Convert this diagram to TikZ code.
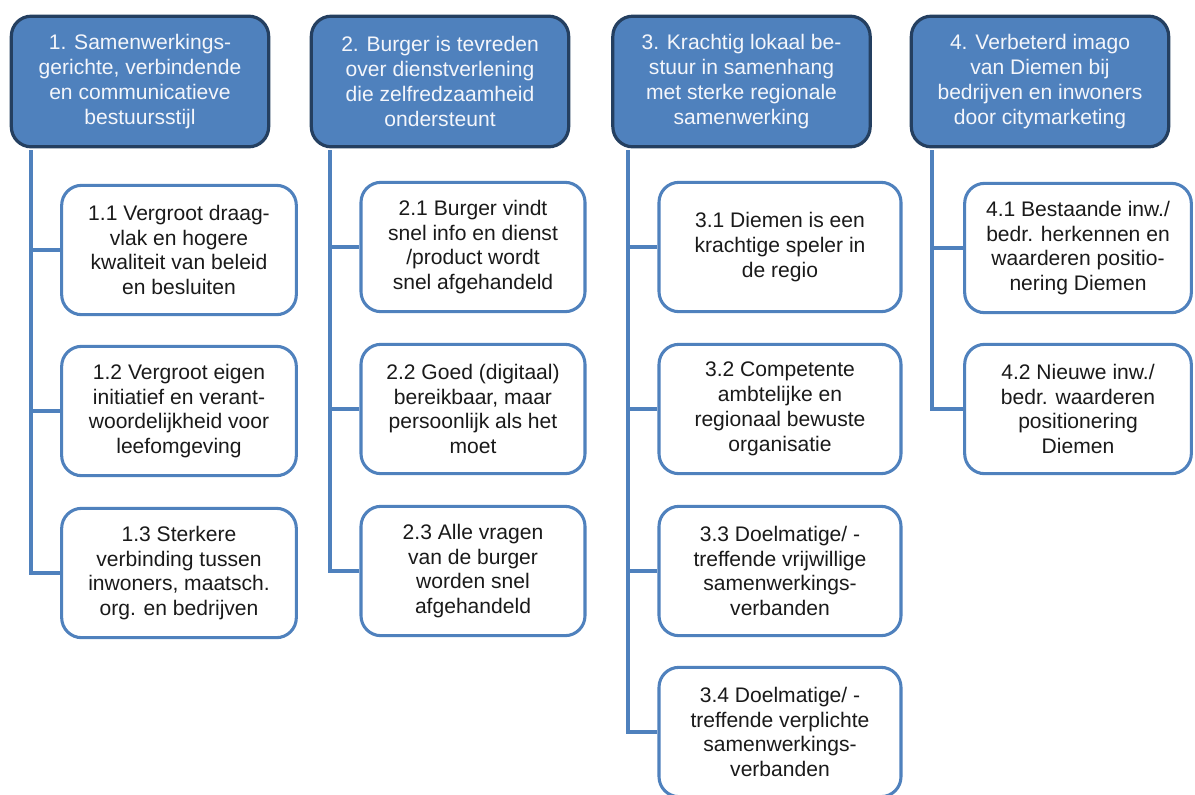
\documentclass[tikz,border=0pt]{standalone}
\usepackage{fontspec}
\setmainfont{Liberation Sans}
\usepackage{xcolor}
\usepackage{tikz}
\usetikzlibrary{calc}
\definecolor{blueFill}{HTML}{4F81BD}
\definecolor{navyEdge}{HTML}{243F60}
\definecolor{inkText}{HTML}{1A1A1A}
\definecolor{headText}{HTML}{F4F6FB}
\tikzset{
  headBox/.style={draw=navyEdge, fill=blueFill, line width=2.4pt, rounded corners=15pt,
    minimum width=193pt, minimum height=98pt, align=center, text=headText,
    font=\fontsize{15.8}{18.6}\selectfont, inner sep=2pt},
  goalBox/.style={draw=blueFill, fill=white, line width=2.3pt, rounded corners=15pt,
    minimum height=97pt, align=center, text=inkText,
    font=\fontsize{15.8}{18.6}\selectfont, inner sep=2pt},
  link/.style={draw=blueFill, line width=2.3pt},
}
\newcommand{\TrunkCoords}{%
  \coordinate (t1) at (31,150);
  \coordinate (t2) at (330,150);
  \coordinate (t3) at (628,150);
  \coordinate (t4) at (932,150);
}

\begin{document}
\begin{tikzpicture}[x=0.75pt, y=-0.75pt]
  \useasboundingbox[fill=white] (0,0) rectangle (1195,794);
  \TrunkCoords

  % Main goals
  \node[headBox] (h1) at (140,81.5)  {1. Samenwerkings-\\gerichte, verbindende\\en communicatieve\\bestuursstijl};
  \node[headBox] (h2) at (440,81.5)  {2. Burger is tevreden\\over dienstverlening\\die zelfredzaamheid\\ondersteunt};
  \node[headBox] (h3) at (741.5,81.5) {3. Krachtig lokaal be-\\stuur in samenhang\\met sterke regionale\\samenwerking};
  \node[headBox] (h4) at (1040,81.5) {4. Verbeterd imago\\van Diemen bij\\bedrijven en inwoners\\door citymarketing};

  % Column 1
  \node[goalBox, minimum width=176pt] (c11) at (179,250) {1.1 Vergroot draag-\\vlak en hogere\\kwaliteit van beleid\\en besluiten};
  \node[goalBox, minimum width=176pt] (c12) at (179,411) {1.2 Vergroot eigen\\initiatief en verant-\\woordelijkheid voor\\leefomgeving};
  \node[goalBox, minimum width=176pt] (c13) at (179,573) {1.3 Sterkere\\verbinding tussen\\inwoners, maatsch.\\org. en bedrijven};

  % Column 2
  \node[goalBox, minimum width=168pt] (c21) at (473,247) {2.1 Burger vindt\\snel info en dienst\\/product wordt\\snel afgehandeld};
  \node[goalBox, minimum width=168pt] (c22) at (473,409) {2.2 Goed (digitaal)\\bereikbaar, maar\\persoonlijk als het\\moet};
  \node[goalBox, minimum width=168pt] (c23) at (473,571) {2.3 Alle vragen\\van de burger\\worden snel\\afgehandeld};

  % Column 3
  \node[goalBox, minimum width=181.5pt] (c31) at (780,247) {3.1 Diemen is een\\krachtige speler in\\de regio};
  \node[goalBox, minimum width=181.5pt] (c32) at (780,409) {3.2 Competente\\ambtelijke en\\regionaal bewuste\\organisatie};
  \node[goalBox, minimum width=181.5pt] (c33) at (780,571) {3.3 Doelmatige/ -\\treffende vrijwillige\\samenwerkings-\\verbanden};
  \node[goalBox, minimum width=181.5pt] (c34) at (780,732) {3.4 Doelmatige/ -\\treffende verplichte\\samenwerkings-\\verbanden};

  % Column 4
  \node[goalBox, minimum width=170pt] (c41) at (1078,248) {4.1 Bestaande inw./\\bedr. herkennen en\\waarderen positio-\\nering Diemen};
  \node[goalBox, minimum width=170pt] (c42) at (1078,409) {4.2 Nieuwe inw./\\bedr. waarderen\\positionering\\Diemen};

  % Links
  \foreach \k in {1,2,3}{\draw[link] (t1) |- (c1\k.west);}
  \foreach \k in {1,2,3}{\draw[link] (t2) |- (c2\k.west);}
  \foreach \k in {1,2,3,4}{\draw[link] (t3) |- (c3\k.west);}
  \foreach \k in {1,2}{\draw[link] (t4) |- (c4\k.west);}
\end{tikzpicture}
\end{document}
